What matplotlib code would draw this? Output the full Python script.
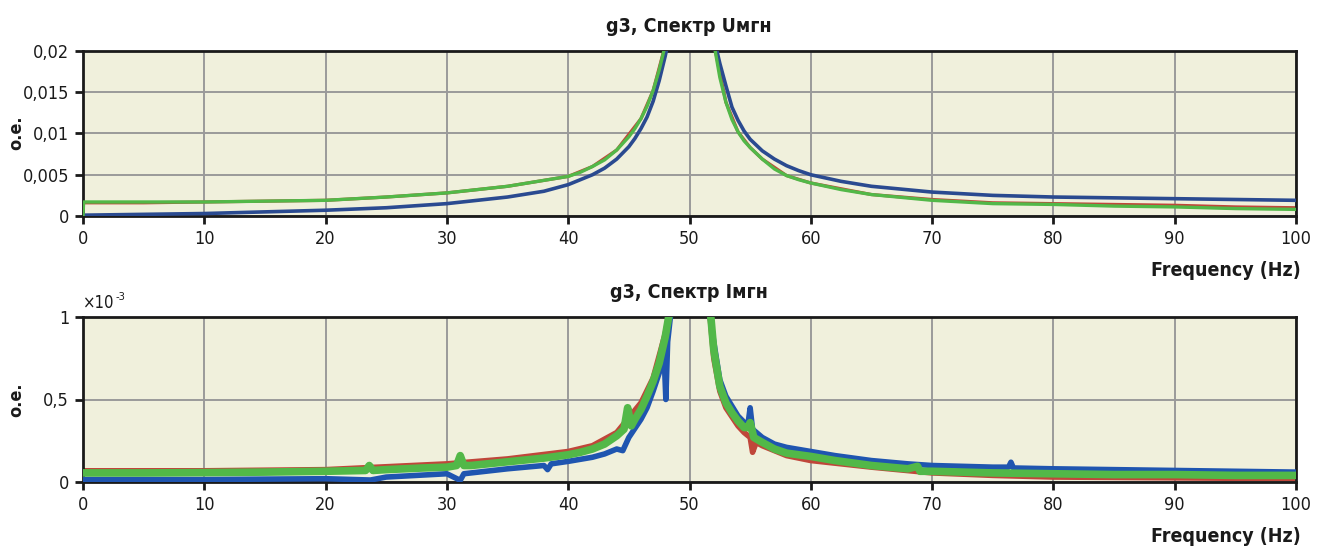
import matplotlib
matplotlib.use("Agg")
import matplotlib.pyplot as plt
from matplotlib import font_manager
from matplotlib.ticker import FixedLocator, FixedFormatter

# ---------------- data ----------------
# Top panel: g3, Спектр Uмгн
u_green_left_f = [0, 0.05, 5, 10, 15, 20, 25, 30, 35, 40, 41, 42, 43, 44, 45, 45.5, 46, 46.5, 47, 47.5, 48]
u_green_left_v = [0, 0.0017, 0.0017, 0.0017, 0.0018, 0.0019, 0.0023, 0.0028, 0.0036, 0.0048, 0.0053, 0.0060,
                  0.0068, 0.0080, 0.0096, 0.0106, 0.0118, 0.0133, 0.0152, 0.0177, 0.0207]
u_green_right_f = [52.0, 52.5, 53, 53.5, 54, 54.5, 55, 56, 57, 58, 59, 60, 62.5, 65, 70, 75, 80, 85, 90, 95, 100]
u_green_right_v = [0.0210, 0.0168, 0.0138, 0.0117, 0.0102, 0.0091, 0.0083, 0.0069, 0.0057, 0.0049, 0.0044,
                   0.0040, 0.0032, 0.0026, 0.0019, 0.0015, 0.0014, 0.0012, 0.0011, 0.0009, 0.0008]
u_red_left_f = [0, 5, 10, 15, 20, 25, 30, 35, 40, 42, 44, 46, 47, 48]
u_red_left_v = [0.0016, 0.0016, 0.0017, 0.0018, 0.0019, 0.0023, 0.0028, 0.0036, 0.0048, 0.0060, 0.0080, 0.0118,
                0.0152, 0.0207]
u_red_right_f = [52.0, 53, 54, 55, 56, 58, 60, 65, 70, 75, 80, 85, 90, 95, 100]
u_red_right_v = [0.0210, 0.0138, 0.0102, 0.0083, 0.0069, 0.0049, 0.0040, 0.0026, 0.0020, 0.0016, 0.0015, 0.0014,
                 0.0013, 0.0011, 0.0010]
u_blue_left_f = [0, 5, 10, 15, 20, 25, 30, 35, 38, 40, 41, 42, 43, 44, 45, 45.5, 46, 46.5, 47, 47.5, 48, 48.3]
u_blue_left_v = [0.0001, 0.0002, 0.0003, 0.0005, 0.0007, 0.0010, 0.0015, 0.0023, 0.0030, 0.0038, 0.0044, 0.0050,
                 0.0058, 0.0069, 0.0084, 0.0094, 0.0106, 0.0120, 0.0139, 0.0164, 0.0194, 0.0215]
u_blue_right_f = [52.1, 52.5, 53, 53.5, 54, 54.5, 55, 56, 57, 58, 59, 60, 62.5, 65, 70, 75, 80, 85, 90, 95, 100]
u_blue_right_v = [0.0210, 0.0185, 0.0158, 0.0132, 0.0116, 0.0103, 0.0093, 0.0079, 0.0069, 0.0061, 0.0055,
                  0.0050, 0.0042, 0.0036, 0.0029, 0.0025, 0.0023, 0.0022, 0.0021, 0.0020, 0.0019]

# Bottom panel: g3, Спектр Iмгн (values in units of 1e-3)
i_green_left_f = [0, 5, 10, 15, 20, 23.3, 23.6, 23.9, 25, 28, 30, 30.8, 31.1, 31.4, 32, 34, 36, 38, 40, 41, 42,
                  43, 44, 44.6, 44.9, 45.2, 45.5, 46, 46.5, 47, 47.5, 48, 48.4]
i_green_left_v = [0.055, 0.055, 0.057, 0.060, 0.065, 0.070, 0.100, 0.070, 0.075, 0.085, 0.090, 0.100, 0.160,
                  0.100, 0.100, 0.115, 0.130, 0.145, 0.165, 0.180, 0.200, 0.230, 0.280, 0.320, 0.450, 0.340,
                  0.380, 0.440, 0.520, 0.610, 0.720, 0.880, 1.050]
i_green_right_f = [51.7, 52, 52.5, 53, 53.5, 54, 54.5, 54.8, 55.0, 55.3, 56, 57, 58, 60, 62, 65, 68, 68.8, 69,
                   70, 75, 80, 85, 90, 95, 100]
i_green_right_v = [1.050, 0.800, 0.580, 0.480, 0.420, 0.370, 0.330, 0.330, 0.360, 0.270, 0.240, 0.200, 0.175,
                   0.155, 0.130, 0.100, 0.080, 0.095, 0.065, 0.065, 0.055, 0.050, 0.045, 0.045, 0.040, 0.040]
i_red_left_f = [0, 10, 20, 30, 35, 40, 42, 44, 46, 47, 48, 48.4]
i_red_left_v = [0.068, 0.068, 0.075, 0.110, 0.140, 0.185, 0.220, 0.300, 0.480, 0.630, 0.900, 1.050]
i_red_right_f = [51.7, 52, 52.5, 53, 54, 54.5, 55, 55.2, 55.5, 56, 58, 60, 65, 70, 75, 80, 90, 100]
i_red_right_v = [1.000, 0.750, 0.550, 0.450, 0.340, 0.300, 0.270, 0.180, 0.240, 0.220, 0.160, 0.130, 0.090,
                 0.055, 0.040, 0.030, 0.025, 0.020]
i_blue_left_f = [0, 10, 20, 23.7, 25, 30, 31.1, 31.4, 35, 38, 38.3, 38.6, 40, 42, 43, 44, 44.5, 45, 46, 46.5,
                 47, 47.5, 47.9, 48.05, 48.2, 48.5]
i_blue_left_v = [0.015, 0.015, 0.020, 0.012, 0.030, 0.050, 0.010, 0.050, 0.080, 0.100, 0.075, 0.110, 0.125,
                 0.150, 0.170, 0.200, 0.190, 0.270, 0.380, 0.450, 0.550, 0.660, 0.780, 0.500, 0.850, 1.050]
i_blue_right_f = [51.6, 52, 52.5, 53, 54, 54.8, 55, 55.2, 56, 57, 58, 60, 62, 65, 68, 70, 75, 76.3, 76.5, 76.7,
                  80, 85, 90, 95, 100]
i_blue_right_v = [1.050, 0.850, 0.620, 0.520, 0.400, 0.340, 0.450, 0.320, 0.270, 0.230, 0.210, 0.185, 0.160,
                  0.130, 0.110, 0.100, 0.090, 0.090, 0.120, 0.085, 0.080, 0.075, 0.070, 0.065, 0.060]

x_ticks = [0, 10, 20, 30, 40, 50, 60, 70, 80, 90, 100]
u_yticks = [0, 0.005, 0.01, 0.015, 0.02]
u_ylabels = ["0", "0,005", "0,01", "0,015", "0,02"]
i_yticks = [0, 0.5, 1]
i_ylabels = ["0", "0,5", "1"]

title_u = "g3, Спектр Uмгн"
title_i = "g3, Спектр Iмгн"
xlabel = "Frequency (Hz)"
ylabel = "о.е."

# ---------------- style ----------------
names = {f.name for f in font_manager.fontManager.ttflist}
if "Liberation Sans Narrow" in names:
    FONT = ["Liberation Sans Narrow", "DejaVu Sans"]
    STRETCH = "normal"
    TICK_FS, LAB_FS = 15, 14
else:
    FONT = ["DejaVu Sans"]
    STRETCH = "condensed"
    TICK_FS, LAB_FS = 13, 13
plt.rcParams["font.family"] = FONT
plt.rcParams["font.stretch"] = STRETCH

BG = "#f0f0dc"
GRID = "#9a9a9a"
GREEN = "#52b848"
RED = "#c0463a"
BLUE_U = "#2a4a90"
BLUE_I = "#1f55b0"
INK = "#1a1a1a"

W, H = 1319, 548
fig = plt.figure(figsize=(W / 100, H / 100), dpi=100)
ax1 = fig.add_axes([83 / W, 1 - 216 / H, (1296 - 83) / W, 165 / H])
ax2 = fig.add_axes([83 / W, 1 - 482 / H, (1296 - 83) / W, 165 / H])


def style(ax, yt, yl, title, ylab_y, xlab_y, title_y):
    ax.set_facecolor(BG)
    ax.set_xlim(0, 100)
    ax.xaxis.set_major_locator(FixedLocator(x_ticks))
    ax.set_xticklabels([str(t) for t in x_ticks])
    ax.yaxis.set_major_locator(FixedLocator(yt))
    ax.yaxis.set_major_formatter(FixedFormatter(yl))
    ax.grid(True, color=GRID, linewidth=1.4)
    ax.set_axisbelow(True)
    ax.tick_params(axis="both", direction="out", length=6, width=2, labelsize=TICK_FS, color=INK,
                   labelcolor=INK, top=False, right=False, pad=4)
    for s in ax.spines.values():
        s.set_color(INK)
        s.set_linewidth(2)
    fig.text(689 / W, 1 - title_y / H, title, fontsize=LAB_FS + 1, fontweight="bold", ha="center",
             va="center", color=INK)
    fig.text(16 / W, 1 - ylab_y / H, ylabel, fontsize=LAB_FS, fontweight="bold", rotation=90,
             ha="center", va="center", color=INK)
    fig.text(1301 / W, 1 - xlab_y / H, xlabel, fontsize=LAB_FS + 1, fontweight="bold", ha="right",
             va="center", color=INK)


# top panel
ax1.plot(u_red_left_f, u_red_left_v, color=RED, lw=2.3, zorder=2)
ax1.plot(u_red_right_f, u_red_right_v, color=RED, lw=2.3, zorder=2)
ax1.plot(u_blue_left_f, u_blue_left_v, color=BLUE_U, lw=2.6, zorder=3)
ax1.plot(u_blue_right_f, u_blue_right_v, color=BLUE_U, lw=2.6, zorder=3)
ax1.plot(u_green_left_f, u_green_left_v, color=GREEN, lw=2.4, zorder=4)
ax1.plot(u_green_right_f, u_green_right_v, color=GREEN, lw=2.4, zorder=4)
ax1.set_ylim(0, 0.02)
style(ax1, u_yticks, u_ylabels, title_u, 133, 270, 27)

# bottom panel
ax2.plot(i_red_left_f, i_red_left_v, color=RED, lw=4, zorder=2)
ax2.plot(i_red_right_f, i_red_right_v, color=RED, lw=4, zorder=2)
ax2.plot(i_blue_left_f, i_blue_left_v, color=BLUE_I, lw=4, zorder=3)
ax2.plot(i_blue_right_f, i_blue_right_v, color=BLUE_I, lw=4, zorder=3)
ax2.plot(i_green_left_f, i_green_left_v, color=GREEN, lw=5.5, zorder=4)
ax2.plot(i_green_right_f, i_green_right_v, color=GREEN, lw=5.5, zorder=4)
ax2.set_ylim(0, 1)
style(ax2, i_yticks, i_ylabels, title_i, 400, 536, 293)
ax2.text(0.0, 1.03, "×10", transform=ax2.transAxes, fontsize=12, ha="left", va="bottom", color=INK)
ax2.text(0.027, 1.09, "-3", transform=ax2.transAxes, fontsize=8, ha="left", va="bottom", color=INK)

fig.savefig("out.png", dpi=100)
